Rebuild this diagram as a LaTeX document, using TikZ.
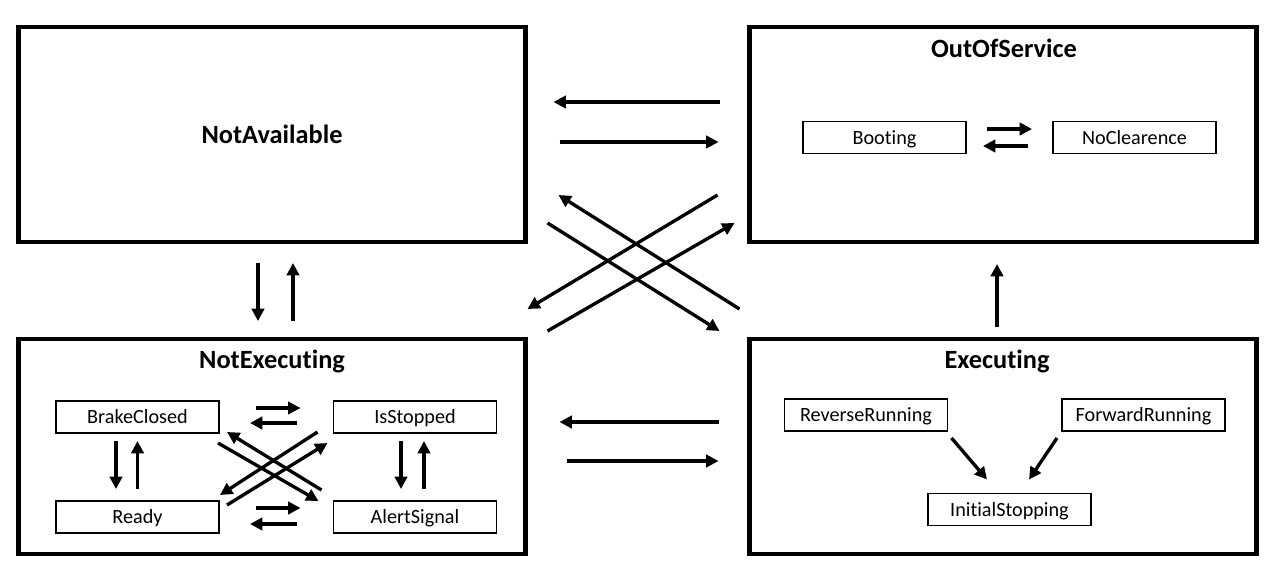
\documentclass[tikz,border=0pt]{standalone}
\usepackage{fontspec}
\setmainfont{Carlito}[Ligatures={NoCommon,NoRare}]
\usetikzlibrary{arrows.meta}
\newdimen\px
\px=0.02cm

\begin{document}
\begin{tikzpicture}[x=0.02cm, y=-0.02cm,
    bigbox/.style={draw, line width=2.4pt, outer sep=0pt, inner sep=0pt,
      minimum width=507\px, minimum height=215\px},
    statebox/.style={draw, line width=0.7pt, outer sep=0pt, inner sep=0pt,
      minimum width=163\px, minimum height=32\px,
      text height=9pt, text depth=1.6pt,
      font=\fontsize{11.5}{13}\selectfont},
    boxtitle/.style={anchor=base, inner sep=0pt,
      font=\fontsize{15}{18}\selectfont\bfseries},
    trans/.style={line width=1.9pt, -{Triangle[length=7pt, width=7pt]}}]
  \useasboundingbox (0,0) rectangle (1280,582);
  % Main states
  \node[bigbox] (na) at (272,134.5) {\fontsize{15}{18}\selectfont\bfseries NotAvailable};
  \node[bigbox] (oos) at (1003,134.5) {};
  \node[bigbox] (ne) at (272,446.5) {};
  \node[bigbox] (ex) at (1003,446.5) {};
  \node[boxtitle] (oost) at ([shift={(1,30)}]oos.north) {OutOfService};
  \node[boxtitle] (net) at ([shift={(0,29)}]ne.north) {NotExecuting};
  \node[boxtitle] (ext) at ([shift={(-6,29)}]ex.north) {Executing};
  % Sub states
  \node[statebox] (boot) at (884.5,137.5) {Booting};
  \node[statebox] (nocl) at (1134.5,137.5) {NoClearence};
  \node[statebox] (bc) at (137.5,417) {BrakeClosed};
  \node[statebox] (is) at (415,417) {IsStopped};
  \node[statebox] (rd) at (137.5,517) {Ready};
  \node[statebox] (as) at (415,517) {AlertSignal};
  \node[statebox] (rev) at (866,415) {ReverseRunning};
  \node[statebox] (fwd) at (1143.5,415) {ForwardRunning};
  \node[statebox] (init) at (1009.5,509.5) {InitialStopping};
  % NotAvailable <-> OutOfService
  \draw[trans] ([shift={(-30,-32.5)}]oos.west) -- ([shift={(28,-32.5)}]na.east);
  \draw[trans] ([shift={(34,7.5)}]na.east) -- ([shift={(-31,7.5)}]oos.west);
  % crossing arrows
  \draw[trans] ([shift={(-32,-47)}]oos.south west) -- ([shift={(2,-30)}]ne.north east);
  \draw[trans] ([shift={(22,-8)}]ne.north east) -- ([shift={(-15,-19)}]oos.south west);
  \draw[trans] ([shift={(-10,-30)}]ex.north west) -- ([shift={(33,-47)}]na.south east);
  \draw[trans] ([shift={(22,-19)}]na.south east) -- ([shift={(-30,-8)}]ex.north west);
  % NotExecuting <-> Executing
  \draw[trans] ([shift={(-31,-24.5)}]ex.west) -- ([shift={(34,-24.5)}]ne.east);
  \draw[trans] ([shift={(41,14.5)}]ne.east) -- ([shift={(-31,14.5)}]ex.west);
  % NotAvailable <-> NotExecuting
  \draw[trans] ([shift={(-14,21)}]na.south) -- ([shift={(-14,-18)}]ne.north);
  \draw[trans] ([shift={(21,-18)}]ne.north) -- ([shift={(21,21)}]na.south);
  % Executing -> OutOfService
  \draw[trans] ([shift={(-6,-12)}]ex.north) -- ([shift={(-6,22)}]oos.south);
  % inside OutOfService
  \draw[trans] ([shift={(21,-8.5)}]boot.east) -- ([shift={(-21,-8.5)}]nocl.west);
  \draw[trans] ([shift={(-25,8.5)}]nocl.west) -- ([shift={(17,8.5)}]boot.east);
  % inside Executing
  \draw[trans] ([shift={(4,7)}]rev.south east) -- ([shift={(-22.5,-14)}]init.north);
  \draw[trans] ([shift={(-5,7)}]fwd.south west) -- ([shift={(19.5,-14)}]init.north);
  % inside NotExecuting
  \draw[trans] ([shift={(37,-9)}]bc.east) -- ([shift={(-33,-9)}]is.west);
  \draw[trans] ([shift={(-37,6)}]is.west) -- ([shift={(31,6)}]bc.east);
  \draw[trans] ([shift={(37,-9)}]rd.east) -- ([shift={(-33,-9)}]as.west);
  \draw[trans] ([shift={(-37,7)}]as.west) -- ([shift={(31,7)}]rd.east);
  \draw[trans] ([shift={(-1,10)}]bc.south east) -- ([shift={(-15,0)}]as.north west);
  \draw[trans] ([shift={(-12,-11)}]as.north west) -- ([shift={(8,-1)}]bc.south east);
  \draw[trans] ([shift={(-16,-1)}]is.south west) -- ([shift={(1,-6)}]rd.north east);
  \draw[trans] ([shift={(8,4)}]rd.north east) -- ([shift={(-6,10)}]is.south west);
  \draw[trans] ([shift={(-21.5,8)}]bc.south) -- ([shift={(-21.5,-12)}]rd.north);
  \draw[trans] ([shift={(0,-12)}]rd.north) -- ([shift={(0,8)}]bc.south);
  \draw[trans] ([shift={(-14,8)}]is.south) -- ([shift={(-14,-12)}]as.north);
  \draw[trans] ([shift={(9,-12)}]as.north) -- ([shift={(9,8)}]is.south);
\end{tikzpicture}
\end{document}
